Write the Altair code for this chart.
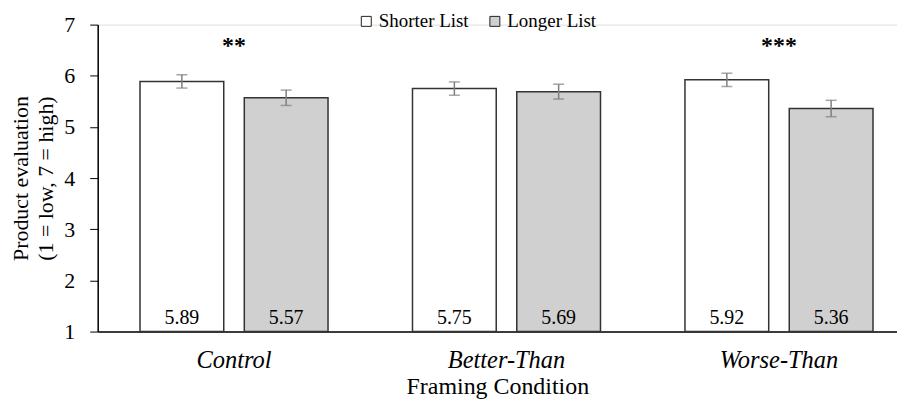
import altair as alt
import pandas as pd

groups = ["Control", "Better-Than", "Worse-Than"]
series = ["Shorter List", "Longer List"]
shorter_vals = [5.89, 5.75, 5.92]
longer_vals = [5.57, 5.69, 5.36]
shorter_err = [0.13, 0.13, 0.13]
longer_err = [0.15, 0.145, 0.16]
stars = ["**", "", "***"]
star_y = 6.58

rows = []
for i, g in enumerate(groups):
    rows.append({"group": g, "series": series[0], "value": shorter_vals[i], "err": shorter_err[i]})
    rows.append({"group": g, "series": series[1], "value": longer_vals[i], "err": longer_err[i]})
df = pd.DataFrame(rows)
df["lo"] = df["value"] - df["err"]
df["hi"] = df["value"] + df["err"]
df["label"] = df["value"].map(lambda v: f"{v:.2f}")

sig = pd.DataFrame({"group": groups, "star": stars})

FONT = "Liberation Serif"
W, H = 802, 308

xscale = alt.Scale(domain=groups, paddingInner=0.31, paddingOuter=0.1217, align=0.638)
offscale = alt.Scale(domain=series, paddingInner=0.197, paddingOuter=0)
yscale = alt.Scale(domain=[1, 7], nice=False, zero=False)

x = alt.X("group:N", scale=xscale, sort=groups,
          axis=alt.Axis(title="Framing Condition", labelAngle=0, ticks=False, domain=True,
                        domainColor="black", domainWidth=1.5,
                        labelFont=FONT, labelFontSize=24.5, labelFontStyle="italic",
                        labelColor="black", labelPadding=17,
                        titleFont=FONT, titleFontSize=24, titleFontWeight="normal",
                        titleColor="black", titlePadding=3))
xo = alt.XOffset("series:N", scale=offscale, sort=series)
y = alt.Y("value:Q", scale=yscale,
          axis=alt.Axis(title=["Product evaluation", "(1 = low, 7 = high)"], values=[1, 2, 3, 4, 5, 6, 7],
                        grid=False, domainColor="black", domainWidth=1.5, tickColor="black", tickSize=8,
                        labelFont=FONT, labelFontSize=22, labelColor="black", labelPadding=15,
                        titleFont=FONT, titleFontSize=22, titleFontWeight="normal",
                        titleLineHeight=25, titleColor="black", titlePadding=6))

base = alt.Chart(df)

bars = base.mark_bar(stroke="#333333", strokeWidth=1.5).encode(
    x=x, xOffset=xo, y=y,
    y2=alt.datum(1),
    fill=alt.Fill("series:N", sort=series,
                  scale=alt.Scale(domain=series, range=["#ffffff", "#d0d0d0"]),
                  legend=alt.Legend(title=None, orient="none", direction="horizontal",
                                    legendX=260, legendY=-13, symbolType="square",
                                    symbolSize=100, symbolStrokeColor="#222222",
                                    symbolStrokeWidth=1, labelFont=FONT, labelFontSize=19,
                                    labelColor="black", columnPadding=16, labelOffset=3)),
)

err = base.mark_rule(color="#7f7f7f", strokeWidth=1.5).encode(
    x=x, xOffset=xo, y=alt.Y("lo:Q", scale=yscale), y2="hi:Q")
cap_hi = base.mark_tick(color="#7f7f7f", orient="horizontal", size=11, thickness=1.5).encode(
    x=x, xOffset=xo, y=alt.Y("hi:Q", scale=yscale))
cap_lo = base.mark_tick(color="#7f7f7f", orient="horizontal", size=11, thickness=1.5).encode(
    x=x, xOffset=xo, y=alt.Y("lo:Q", scale=yscale))

labels = base.mark_text(font=FONT, fontSize=20, color="black", dy=-14, baseline="middle").encode(
    x=x, xOffset=xo, y=alt.datum(1), text="label:N")

stars_layer = alt.Chart(sig).mark_text(font=FONT, fontSize=24, fontWeight="bold", color="black",
                                       baseline="middle").encode(
    x=x, y=alt.datum(star_y), text="star:N")

chart = alt.layer(bars, err, cap_hi, cap_lo, labels, stars_layer).properties(
    width=W, height=H,
    autosize=alt.AutoSizeParams(type="none"),
    padding={"left": 90, "top": 16, "right": 0, "bottom": 70}
).configure_view(stroke=None).configure(background="white")

chart.save("out.html", embed_options={"renderer": "svg", "actions": False})
